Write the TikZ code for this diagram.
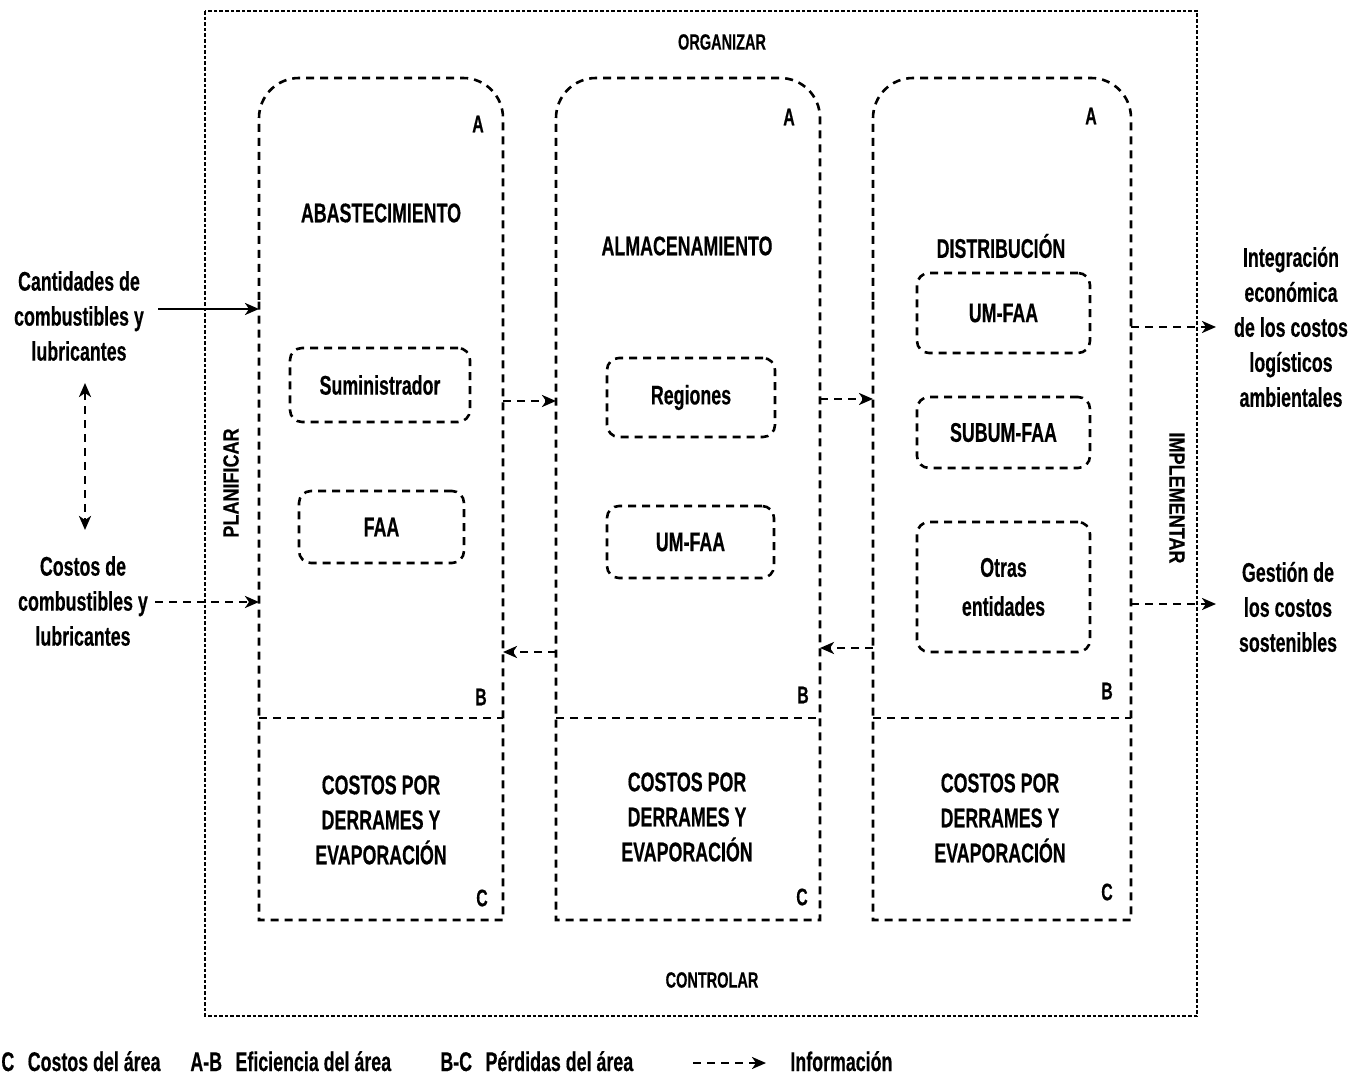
\documentclass[tikz,border=0pt]{standalone}
\usepackage{fontspec}
\setmainfont{Liberation Sans}[FakeStretch=0.66, BoldFont={Liberation Sans Bold}, BoldFeatures={FakeBold=0.4}]
\newfontfamily\rotfont{Liberation Sans}[FakeStretch=0.82, BoldFont={Liberation Sans Bold}, BoldFeatures={FakeBold=0.4}]
\usetikzlibrary{arrows.meta}
\tikzset{
  txt/.style={font=\bfseries\fontsize{13.5}{17.5}\selectfont, align=center, inner sep=0pt},
  smalltxt/.style={font=\bfseries\fontsize{11}{13}\selectfont, inner sep=0pt},
  lettr/.style={font=\bfseries\fontsize{12}{14}\selectfont, inner sep=0pt},
  rottxt/.style={font=\rotfont\bfseries\fontsize{11}{13}\selectfont, inner sep=0pt},
  colline/.style={line width=1.3pt, dash pattern=on 4pt off 3pt},
  outerframe/.style={line width=1.3pt, dash pattern=on 1.8pt off 1pt},
  subbox/.style={txt, draw, colline, rounded corners=6pt},
  tipx/.tip={Stealth[length=7pt,width=6pt,inset=2pt]},
  infoarrow/.style={colline, -tipx},
  solidarrow/.style={line width=1.2pt, -tipx},
}
\begin{document}
\begin{tikzpicture}[x=0.5pt,y=-0.5pt]
\useasboundingbox (0,0) rectangle (1369,1079);
\fill[white] (0,0) rectangle (1369,1079);

% outer frame
\draw[outerframe] (205,11) rectangle (1197,1016);
\node[smalltxt] (org) at (722,42) {ORGANIZAR};
\node[smalltxt] (ctl) at (712,980) {CONTROLAR};
\node[rottxt, rotate=90] (plan) at (231,483) {PLANIFICAR};
\node[rottxt, rotate=-90] (impl) at (1177,498) {IMPLEMENTAR};

% columns
\foreach \L/\R in {259/503, 556/820, 873/1131}{
  \draw[colline] (\L,300) [rounded corners=20pt] -- (\L,78) -- (\R,78) -- (\R,300)
    [sharp corners] -- (\R,920) -- (\L,920) -- cycle;
  \draw[colline] (\L,718) -- (\R,718);
}

% column labels
\node[lettr] (a1) at (478,124) {A};
\node[lettr] (a2) at (789,117) {A};
\node[lettr] (a3) at (1091,116) {A};
\node[lettr] (b1) at (481,697) {B};
\node[lettr] (b2) at (803,695) {B};
\node[lettr] (b3) at (1107,691) {B};
\node[lettr] (cc1) at (482,898) {C};
\node[lettr] (cc2) at (802,897) {C};
\node[lettr] (cc3) at (1107,892) {C};

% titles
\node[txt] (t1) at (381,213) {ABASTECIMIENTO};
\node[txt] (t2) at (687,246) {ALMACENAMIENTO};
\node[txt] (t3) at (1001,246) {DISTRIBUCIÓN};

% sub boxes
\node[subbox, minimum width=90pt, minimum height=37pt] (sum) at (380,385) {Suministrador};
\node[subbox, minimum width=82.5pt, minimum height=36pt] (faa) at (381.5,527) {FAA};
\node[subbox, minimum width=84pt, minimum height=39.5pt] (reg) at (691,397.5) {Regiones};
\node[subbox, minimum width=83.5pt, minimum height=36pt] (umfaa2) at (690.5,542) {UM-FAA};
\node[subbox, minimum width=86.5pt, minimum height=40pt] (umfaa3) at (1003.5,313) {UM-FAA};
\node[subbox, minimum width=86.5pt, minimum height=35.5pt] (subum) at (1003.5,432.5) {SUBUM-FAA};
\node[subbox, minimum width=86.5pt, minimum height=65pt] (otras) at (1003.5,587) {Otras\\[2pt]entidades};

% cost texts
\node[txt] (k1) at (381,820) {COSTOS POR\\DERRAMES Y\\EVAPORACIÓN};
\node[txt] (k2) at (687,817) {COSTOS POR\\DERRAMES Y\\EVAPORACIÓN};
\node[txt] (k3) at (1000,818) {COSTOS POR\\DERRAMES Y\\EVAPORACIÓN};

% left texts
\node[txt] (cant) at (79,316) {Cantidades de\\combustibles y\\lubricantes};
\node[txt] (cost) at (83,601) {Costos de\\combustibles y\\lubricantes};

% right texts
\node[txt] (integ) at (1291,327) {Integración\\económica\\de los costos\\logísticos\\ambientales};
\node[txt] (gest) at (1288,607) {Gestión de\\los costos\\sostenibles};

% connector coordinates
\coordinate (s1) at (158,309);   \coordinate (e1) at (259,309);
\coordinate (s2) at (155,602);   \coordinate (e2) at (259,602);
\coordinate (v1) at (85,383);    \coordinate (v2) at (85,530);
\coordinate (c1o) at (503,401);  \coordinate (c2i) at (556,401);
\coordinate (c2o) at (820,399);  \coordinate (c3i) at (873,399);
\coordinate (c3b) at (873,648);  \coordinate (c2bi) at (820,648);
\coordinate (c2b) at (556,652);  \coordinate (c1bi) at (503,652);
\coordinate (r1) at (1131,327);  \coordinate (r1e) at (1216,327);
\coordinate (r2) at (1131,604);  \coordinate (r2e) at (1216,604);

\draw[solidarrow] (s1) -- (e1);
\draw[infoarrow] (s2) -- (e2);
\draw[colline, tipx-tipx] (v1) -- (v2);
\draw[infoarrow] (c1o) -- (c2i);
\draw[infoarrow] (c2o) -- (c3i);
\draw[infoarrow] (c3b) -- (c2bi);
\draw[infoarrow] (c2b) -- (c1bi);
\draw[infoarrow] (r1) -- (r1e);
\draw[infoarrow] (r2) -- (r2e);

% legend
\node[txt, anchor=base west] (lg1) at (1,1071) {C\enspace Costos del área};
\node[txt, anchor=base west] (lg2) at (190,1071) {A-B\enspace Eficiencia del área};
\node[txt, anchor=base west] (lg3) at (440,1071) {B-C\enspace Pérdidas del área};
\coordinate (la1) at (693,1063); \coordinate (la2) at (766,1063);
\draw[infoarrow] (la1) -- (la2);
\node[txt, anchor=base west] (lg4) at (790,1071) {Información};
\end{tikzpicture}
\end{document}
